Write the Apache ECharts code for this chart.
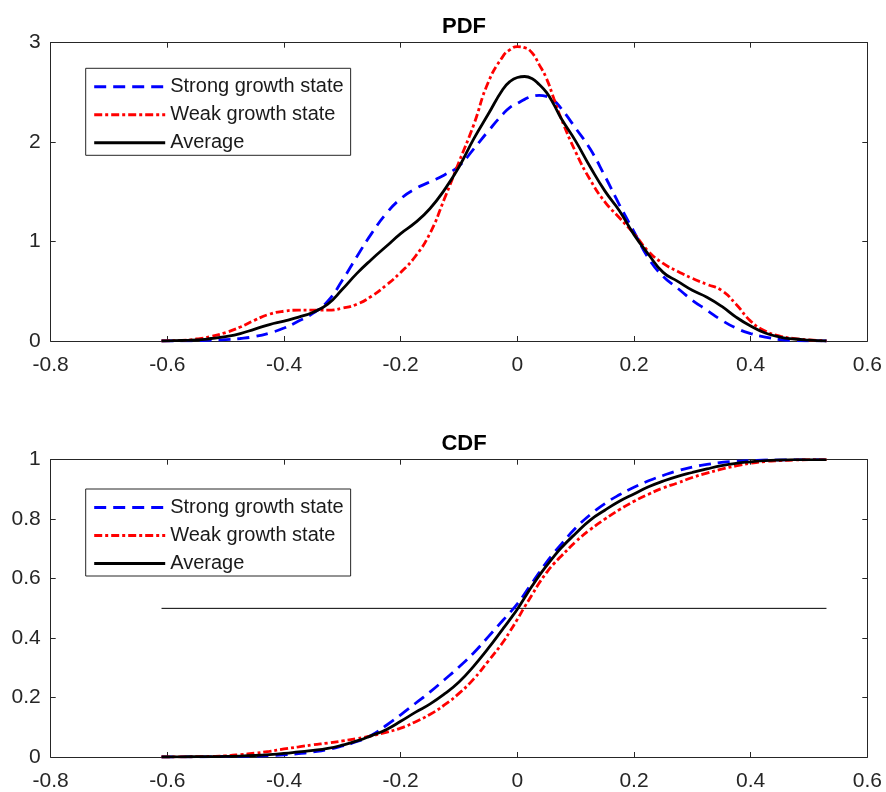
<!DOCTYPE html>
<html>
<head>
<meta charset="utf-8">
<script src="https://cdn.jsdelivr.net/npm/echarts@6/dist/echarts.min.js"></script>
<style>
html,body{margin:0;padding:0;background:#fff;}
#chart{width:886px;height:792px;}
</style>
</head>
<body>
<div id="chart"></div>
<script>
// ---- data ----
const xGrid = [-0.61, -0.6, -0.575, -0.55, -0.525, -0.5, -0.475, -0.45, -0.425, -0.4, -0.375, -0.35, -0.325, -0.3, -0.275, -0.25, -0.225, -0.2, -0.175, -0.15, -0.125, -0.1, -0.075, -0.05, -0.025, -0.0125, 0, 0.0125, 0.025, 0.0375, 0.05, 0.0625, 0.075, 0.1, 0.125, 0.15, 0.175, 0.2, 0.225, 0.25, 0.275, 0.3, 0.325, 0.35, 0.375, 0.4, 0.425, 0.45, 0.475, 0.5, 0.525, 0.53];

const pdfStrong = [0, 0, 0.001, 0.003, 0.008, 0.014, 0.025, 0.045, 0.08, 0.13, 0.20, 0.28, 0.40, 0.61, 0.85, 1.08, 1.28, 1.43, 1.53, 1.60, 1.67, 1.76, 1.93, 2.11, 2.28, 2.35, 2.39, 2.43, 2.46, 2.47, 2.46, 2.42, 2.34, 2.14, 1.93, 1.66, 1.37, 1.10, 0.83, 0.65, 0.53, 0.41, 0.31, 0.21, 0.13, 0.075, 0.04, 0.015, 0.006, 0.002, 0.0005, 0];
const pdfWeak = [0, 0.002, 0.007, 0.02, 0.045, 0.085, 0.14, 0.21, 0.27, 0.30, 0.31, 0.31, 0.31, 0.33, 0.37, 0.45, 0.56, 0.69, 0.85, 1.08, 1.43, 1.80, 2.17, 2.60, 2.86, 2.93, 2.96, 2.95, 2.90, 2.78, 2.64, 2.44, 2.24, 1.90, 1.62, 1.40, 1.24, 1.08, 0.90, 0.78, 0.70, 0.63, 0.57, 0.51, 0.37, 0.20, 0.10, 0.05, 0.025, 0.01, 0.002, 0];
const pdfAverage = [0, 0.002, 0.005, 0.01, 0.025, 0.045, 0.075, 0.12, 0.165, 0.20, 0.24, 0.29, 0.37, 0.52, 0.68, 0.82, 0.95, 1.08, 1.19, 1.33, 1.52, 1.75, 2.03, 2.28, 2.53, 2.61, 2.65, 2.66, 2.64, 2.58, 2.50, 2.38, 2.24, 2.01, 1.75, 1.51, 1.31, 1.07, 0.87, 0.69, 0.60, 0.51, 0.44, 0.35, 0.24, 0.15, 0.08, 0.04, 0.02, 0.008, 0.002, 0];

const cdfStrong = [0, 0, 0.0002, 0.0005, 0.001, 0.002, 0.002, 0.003, 0.005, 0.007, 0.011, 0.017, 0.025, 0.037, 0.052, 0.073, 0.106, 0.142, 0.180, 0.218, 0.260, 0.303, 0.350, 0.404, 0.459, 0.486, 0.515, 0.549, 0.585, 0.620, 0.655, 0.686, 0.715, 0.77, 0.815, 0.852, 0.882, 0.907, 0.929, 0.947, 0.963, 0.975, 0.984, 0.991, 0.995, 0.997, 0.999, 0.9995, 1, 1, 1, 1];
const cdfWeak = [0, 0, 0.0005, 0.001, 0.002, 0.004, 0.008, 0.013, 0.019, 0.027, 0.034, 0.041, 0.047, 0.054, 0.062, 0.071, 0.083, 0.097, 0.118, 0.143, 0.175, 0.214, 0.262, 0.322, 0.385, 0.423, 0.463, 0.505, 0.545, 0.585, 0.62, 0.65, 0.675, 0.724, 0.765, 0.800, 0.832, 0.860, 0.884, 0.905, 0.922, 0.940, 0.955, 0.968, 0.979, 0.988, 0.994, 0.997, 0.999, 1, 1, 1];
const cdfAverage = [0, 0, 0.0005, 0.001, 0.001, 0.002, 0.003, 0.005, 0.008, 0.012, 0.017, 0.022, 0.029, 0.040, 0.054, 0.072, 0.092, 0.120, 0.150, 0.178, 0.212, 0.252, 0.305, 0.365, 0.43, 0.463, 0.497, 0.536, 0.574, 0.61, 0.643, 0.674, 0.703, 0.752, 0.797, 0.83, 0.86, 0.885, 0.909, 0.928, 0.944, 0.957, 0.969, 0.980, 0.988, 0.993, 0.997, 0.999, 1, 1, 1, 1];

const medianLineX = [-0.61, 0.53];
const medianLineY = [0.5, 0.5];

const seriesNames = ['Strong growth state', 'Weak growth state', 'Average'];
const panelTitles = ['PDF', 'CDF'];

// ---- chart ----
const FONT = '"Liberation Sans", Arial, Helvetica, sans-serif';
const AX = '#262626';
function pairs(xs, ys) { return xs.map((x, i) => [x, ys[i]]); }

const gridL = 50.7, gridW = 816.6, gridH = 298.3;
const tops = [42.7, 459.7];

function xAx(gi, pos) {
  return {
    type: 'value', gridIndex: gi, position: pos, min: -0.8, max: 0.6, interval: 0.2,
    axisLine: { show: true, onZero: false, lineStyle: { color: AX, width: 1 } },
    axisTick: { show: true, inside: true, length: 5, lineStyle: { color: AX } },
    axisLabel: { show: pos === 'bottom', color: AX, fontSize: 21, fontFamily: FONT, margin: 14 },
    splitLine: { show: false }
  };
}
function yAx(gi, pos, max, interval) {
  return {
    type: 'value', gridIndex: gi, position: pos, min: 0, max: max, interval: interval,
    axisLine: { show: true, onZero: false, lineStyle: { color: AX, width: 1 } },
    axisTick: { show: true, inside: true, length: 5, lineStyle: { color: AX } },
    axisLabel: { show: pos === 'left', color: AX, fontSize: 21, fontFamily: FONT, margin: 10 },
    splitLine: { show: false }
  };
}

const styles = [
  { color: '#0000ff', type: [12, 7] },
  { color: '#ff0000', type: [8, 3, 3, 3] },
  { color: '#000000', type: 'solid' }
];

function lineSeries(name, idx, gi, data) {
  return {
    name: name, type: 'line', xAxisIndex: gi, yAxisIndex: gi,
    data: data, showSymbol: false, symbol: 'none', smooth: 0.5,
    lineStyle: { color: styles[idx].color, width: 2.8, type: styles[idx].type },
    itemStyle: { color: styles[idx].color },
    z: 3 + idx, animation: false
  };
}

const series = [
  lineSeries(seriesNames[0], 0, 0, pairs(xGrid, pdfStrong)),
  lineSeries(seriesNames[1], 1, 0, pairs(xGrid, pdfWeak)),
  lineSeries(seriesNames[2], 2, 0, pairs(xGrid, pdfAverage)),
  {
    name: 'median', type: 'line', xAxisIndex: 1, yAxisIndex: 1,
    data: pairs(medianLineX, medianLineY), showSymbol: false, symbol: 'none',
    lineStyle: { color: '#000000', width: 1 }, z: 2, animation: false
  },
  lineSeries(seriesNames[0], 0, 1, pairs(xGrid, cdfStrong)),
  lineSeries(seriesNames[1], 1, 1, pairs(xGrid, cdfWeak)),
  lineSeries(seriesNames[2], 2, 1, pairs(xGrid, cdfAverage))
];

function legendAt(top) {
  return {
    data: seriesNames, orient: 'vertical', left: 85.7, top: top,
    itemWidth: 71, itemHeight: 14, itemGap: 8,
    padding: [8.5, 7, 2.5, 7],
    backgroundColor: '#ffffff', borderColor: AX, borderWidth: 1, borderRadius: 0,
    itemStyle: { color: 'rgba(0,0,0,0)', borderColor: 'rgba(0,0,0,0)', borderWidth: 0, opacity: 0 },
    lineStyle: { width: 3 },
    textStyle: { fontSize: 20, fontFamily: FONT, color: '#1a1a1a', padding: [0, 0, 0, 0] },
    selectedMode: false, z: 10
  };
}

const option = {
  animation: false,
  backgroundColor: '#ffffff',
  title: panelTitles.map((t, i) => ({
    text: t, left: 459, textAlign: 'center', top: i === 0 ? 11 : 428,
    textStyle: { fontSize: 22, fontWeight: 'bold', fontFamily: FONT, color: '#000000' }
  })),
  grid: tops.map(t => ({ left: gridL, top: t, width: gridW, height: gridH, containLabel: false })),
  xAxis: [xAx(0, 'bottom'), xAx(1, 'bottom'), xAx(0, 'top'), xAx(1, 'top')],
  yAxis: [yAx(0, 'left', 3, 1), yAx(1, 'left', 1, 0.2), yAx(0, 'right', 3, 1), yAx(1, 'right', 1, 0.2)],
  legend: [legendAt(68.3), legendAt(489)],
  series: series
};

const chart = echarts.init(document.getElementById('chart'), null, { renderer: 'canvas' });
chart.setOption(option);
</script>
</body>
</html>
